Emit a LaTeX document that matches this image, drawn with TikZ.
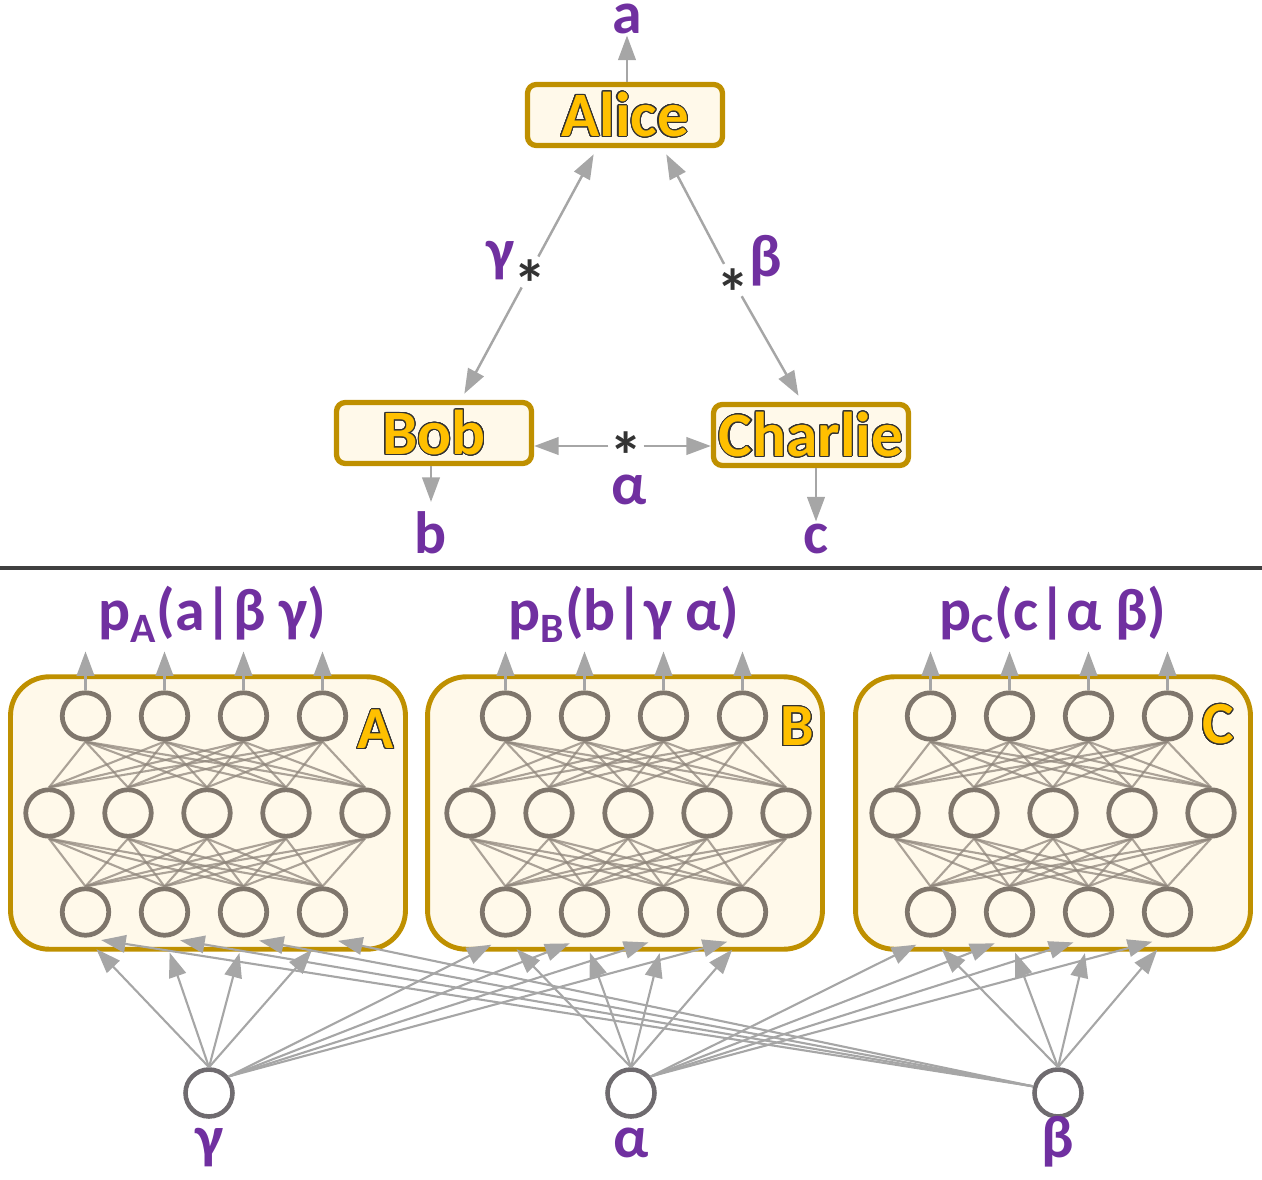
\documentclass[tikz,border=0pt]{standalone}
\usepackage{fontspec}
\setmainfont{Carlito}
\usepackage{contour}
\usetikzlibrary{arrows.meta, positioning, calc}

\definecolor{purp}{HTML}{7030A0}
\definecolor{gold}{HTML}{FFC000}
\definecolor{goldline}{HTML}{BF9000}
\definecolor{cream}{HTML}{FFF9EA}
\definecolor{arrgray}{HTML}{A6A6A6}
\definecolor{neurgray}{HTML}{7F766C}
\definecolor{linkgray}{HTML}{8F867C}
\definecolor{inputgray}{HTML}{6F6B6F}
\definecolor{rulegray}{HTML}{404040}

\contourlength{0.6pt}
\contournumber{24}
\newcommand{\goldname}[1]{\textcolor{gold}{\contour{black!80}{#1}}}

\tikzset{
  party/.style={draw=goldline, line width=3pt, fill=cream, rounded corners=5pt,
    minimum width=3.9cm, minimum height=1.22cm, inner sep=0pt,
    font=\fontsize{36}{40}\selectfont\bfseries},
  lbl/.style={text=purp, font=\fontsize{34}{38}\selectfont\bfseries, inner sep=1pt},
  starmark/.style={text=black!80, font=\fontsize{38}{38}\selectfont\bfseries,
    inner sep=0pt, anchor=base},
  arr/.style={draw=arrgray, line width=1.4pt, -{Triangle[length=14pt,width=10pt]}},
  netbox/.style={draw=goldline, line width=2.8pt, fill=cream, rounded corners=22pt,
    minimum width=7.9cm, minimum height=5.45cm},
  neuron/.style={circle, draw=neurgray, line width=2.7pt, fill=cream,
    minimum size=0.93cm, inner sep=0pt},
  link/.style={draw=linkgray, line width=1.2pt, opacity=0.75},
  inp/.style={circle, draw=inputgray, line width=2.6pt, fill=white,
    minimum size=0.94cm, inner sep=0pt},
  netname/.style={font=\fontsize{34}{38}\selectfont\bfseries, inner sep=0pt},
}

\begin{document}
\begin{tikzpicture}[x=0.02cm, y=-0.02cm]
\useasboundingbox (0,0) rectangle (1262,1180);

% triangle network
\node[party] (alice) at (625,115) {\goldname{Alice}};
\node[party] (bob) at (434,433) {\goldname{Bob}};
\node[party] (charlie) at (811,435) {\goldname{Charlie}};

% outputs
\node[lbl, anchor=base] (a) at (627,33) {a};
\node[lbl, anchor=base] (b) at (431,553) {b};
\node[lbl, anchor=base] (c) at (816,553) {c};
\draw[arr] (a.south |- alice.north) -- (a.south);
\draw[arr, shorten >=4pt] (b.north |- bob.south) -- (b.north);
\draw[arr] (c.north |- charlie.south) -- (c.north);

% sources
\coordinate (gsrc) at (530,272);
\coordinate (bsrc) at (733,281);
\coordinate (asrc) at (626,446);
\node[starmark] at ($(gsrc)+(0,35)$) {\smash{*}};
\node[starmark] at ($(bsrc)+(0,35)$) {\smash{*}};
\node[starmark] at ($(asrc)+(0,33)$) {\smash{*}};
\node[lbl, anchor=base] (glbl) at (500,270) {γ};
\node[lbl, anchor=base] (blbl) at (766,276) {β};
\node[lbl, anchor=base] (albl) at (629,504) {α};

\draw[arr, shorten <=10pt, shorten >=4pt] (gsrc) -- ($(alice.south)+(-28,0)$);
\draw[arr, shorten <=10pt, shorten >=4pt] (gsrc) -- ($(bob.north)+(27,0)$);
\draw[arr, shorten <=11pt, shorten >=4pt] (bsrc) -- ($(alice.south)+(38,0)$);
\draw[arr, shorten <=10pt, shorten >=4pt] (bsrc) -- ($(charlie.north)+(-9,0)$);
\draw[arr, shorten <=10pt] (asrc) -- ($(bob.east)+(0,13)$);
\draw[arr, shorten <=10pt] (asrc) -- ($(charlie.west)+(0,11)$);

% separator
\draw[line width=2.8pt, rulegray] (0,568) -- (1262,568);

% neural nets
\foreach \net/\bx/\tx/\mx/\nx/\ny in {A/208/204/207/376/730, B/625/624/628/797/727, C/1053/1049/1053/1218/725} {
  \node[netbox] (box\net) at (\bx,813) {};
  \foreach \i in {1,...,4} {
    \node[neuron] (\net t\i) at ({\tx+(\i-2.5)*79},716) {};
    \node[neuron] (\net b\i) at ({\tx+(\i-2.5)*79},912) {};
  }
  \foreach \j in {1,...,5}
    \node[neuron] (\net m\j) at ({\mx+(\j-3)*79},813) {};
  \foreach \i in {1,...,4}
    \foreach \j in {1,...,5} {
      \draw[link] (\net t\i.south) -- (\net m\j.north);
      \draw[link] (\net m\j.south) -- (\net b\i.north);
    }
  \foreach \i in {1,...,4} {
    \coordinate (\net o\i) at ($(\net t\i.north)+(0,-39)$);
    \draw[arr] (\net t\i.north) -- (\net o\i);
  }
  \node[netname] (name\net) at (\nx,\ny) {\goldname{\net}};
}

% conditional outputs
\node[lbl, anchor=base] (titleA) at (212,630) {p\textsubscript{A}(a|β γ)};
\node[lbl, anchor=base] (titleB) at (624,630) {p\textsubscript{B}(b|γ α)};
\node[lbl, anchor=base] (titleC) at (1053,630) {p\textsubscript{C}(c|α β)};

% hidden variables
\node[inp] (gam) at (209,1093) {};
\node[inp] (alp) at (631,1093) {};
\node[inp] (bet) at (1058,1093) {};
\node[lbl, anchor=base] at (209,1157) {γ};
\node[lbl, anchor=base] at (631,1157) {α};
\node[lbl, anchor=base] at (1058,1157) {β};

\foreach \i in {1,...,4} {
  \draw[arr, line width=1.2pt, shorten >=9pt] (gam.north) -- (Ab\i.south);
  \draw[arr, line width=1.2pt, shorten >=9pt] (gam.40) -- (Bb\i.south);
  \draw[arr, line width=1.2pt, shorten >=9pt] (alp.north) -- (Bb\i.south);
  \draw[arr, line width=1.2pt, shorten >=9pt] (alp.40) -- (Cb\i.south);
  \draw[arr, line width=1.2pt, shorten >=9pt] (bet.north) -- (Cb\i.south);
  \draw[arr, line width=1.2pt, shorten >=9pt] (bet.165) -- (Ab\i.south);
}
\end{tikzpicture}
\end{document}
